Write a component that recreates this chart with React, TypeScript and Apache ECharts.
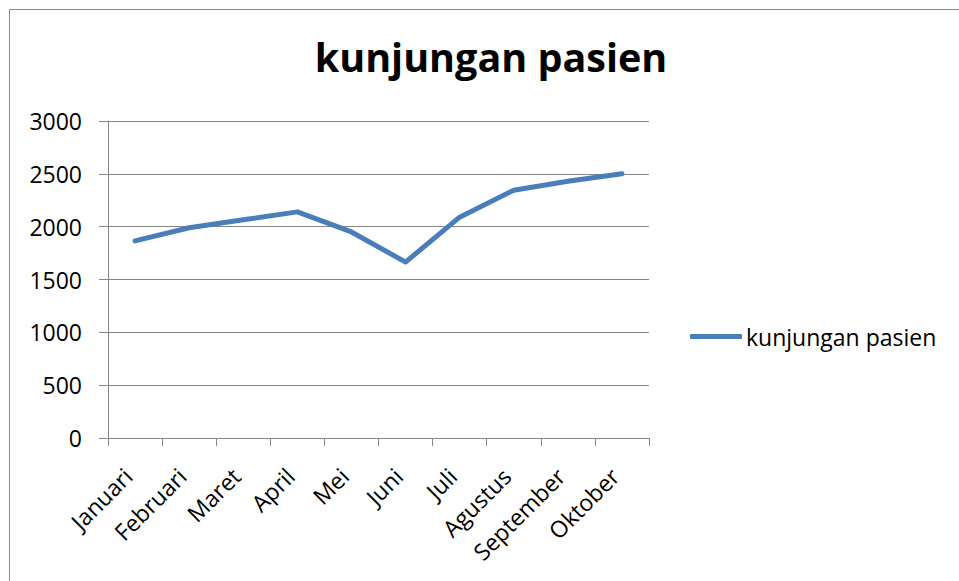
import React, { useEffect, useRef } from "react";
import * as echarts from "echarts";

const months = ["Januari", "Februari", "Maret", "April", "Mei", "Juni", "Juli", "Agustus", "September", "Oktober"];
const visits = [1865, 1990, 2065, 2140, 1950, 1665, 2090, 2345, 2430, 2500];
const yTicks = { min: 0, max: 3000, interval: 500 };
const seriesName = "kunjungan pasien";
const titleText = "kunjungan pasien";

const FONT = "'Open Sans', 'Noto Sans', sans-serif";
const GRID_COLOR = "#868686";
const LINE_COLOR = "#4a7ebb";

export default function App() {
  const ref = useRef<HTMLDivElement>(null);
  useEffect(() => {
    if (!ref.current) return;
    const chart = echarts.init(ref.current, undefined, { renderer: "svg" });
    chart.setOption({
      animation: false,
      backgroundColor: "#ffffff",
      textStyle: { fontFamily: FONT, color: "#000" },
      title: {
        text: titleText,
        left: 486,
        textAlign: "center",
        top: 32,
        textStyle: { fontFamily: FONT, fontSize: 39.5, fontWeight: "bold", color: "#000" },
      },
      graphic: [
        {
          type: "rect",
          shape: { x: 9.5, y: 9.5, width: 1000, height: 700 },
          style: { fill: "none", stroke: "#8c8c8c", lineWidth: 1 },
          silent: true,
          z: -1,
        },
      ],
      legend: {
        left: 690,
        top: 325,
        padding: 0,
        orient: "vertical",
        icon: "roundRect",
        itemWidth: 52,
        itemHeight: 5,
        itemGap: 5,
        textStyle: { fontFamily: FONT, fontSize: 23, color: "#000", padding: [0, 0, 0, -1] },
        data: [{ name: seriesName, itemStyle: { color: LINE_COLOR } }],
      },
      grid: { left: 108, right: 310, top: 121, bottom: 143, containLabel: false },
      xAxis: {
        type: "category",
        data: months,
        boundaryGap: true,
        axisLine: { show: true, lineStyle: { color: GRID_COLOR, width: 1 } },
        axisTick: { show: true, length: 8, lineStyle: { color: GRID_COLOR } },
        axisLabel: {
          rotate: 45,
          fontSize: 23,
          fontFamily: FONT,
          color: "#000",
          margin: 27,
          padding: [0, 10, 0, 0],
          interval: 0,
        },
        splitLine: { show: false },
      },
      yAxis: {
        type: "value",
        min: yTicks.min,
        max: yTicks.max,
        interval: yTicks.interval,
        axisLine: { show: true, lineStyle: { color: GRID_COLOR, width: 1 } },
        axisTick: { show: true, length: 9, lineStyle: { color: GRID_COLOR } },
        axisLabel: {
          fontSize: 23,
          fontFamily: FONT,
          color: "#000",
          margin: 26,
          formatter: (v: number) => String(v),
        },
        splitLine: { show: true, lineStyle: { color: GRID_COLOR, width: 1 } },
      },
      series: [
        {
          name: seriesName,
          type: "line",
          data: visits,
          symbol: "none",
          lineStyle: { color: LINE_COLOR, width: 5, cap: "round", join: "round" },
          itemStyle: { color: LINE_COLOR },
        },
      ],
    });
    return () => chart.dispose();
  }, []);
  return <div ref={ref} style={{ position: "fixed", left: 0, top: 0, width: 959, height: 581 }} />;
}
